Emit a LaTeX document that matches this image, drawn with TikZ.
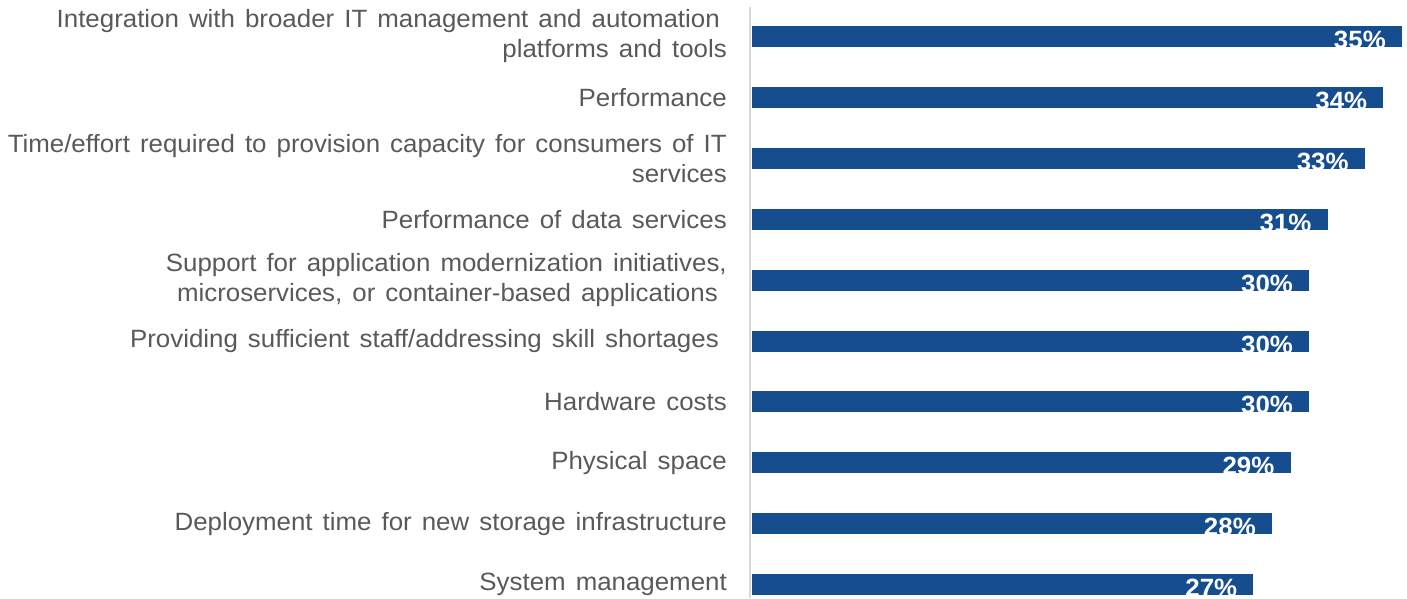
\documentclass[tikz,border=0pt]{standalone}
\usepackage{fontspec}
\setmainfont[FakeStretch=1.035, WordSpace=1.4]{Liberation Sans}
\usetikzlibrary{positioning}
\definecolor{barblue}{HTML}{154D8F}
\definecolor{labelgray}{HTML}{595959}
\definecolor{axisgray}{HTML}{D9D9D9}

\begin{document}
\begin{tikzpicture}[
  x=1pt, y=-1pt,
  item label/.style={
    anchor=east, align=right, inner sep=0pt, text=labelgray,
    font=\fontsize{25}{30}\selectfont,
  },
  bar/.style={
    fill=barblue, draw=none, anchor=west, inner sep=0pt, outer sep=0pt,
    minimum height=21pt,
  },
  value label/.style={
    anchor=base east, inner sep=0pt, text=white,
    font=\fontsize{25}{30}\selectfont\bfseries,
  }
  ]
  \useasboundingbox (0,0) rectangle (1407,598);

  % value axis
  \coordinate (axis top) at (750,7);
  \coordinate (axis bottom) at (750,598);
  \draw[axisgray, line width=1.5pt] (axis top) -- (axis bottom);

  % one row per answer: label, bar, share
  \foreach \i/\val/\txt in {
      1/35/{Integration with broader IT management and automation\kern7pt\\platforms and tools},
      2/34/{Performance},
      3/33/{Time/effort required to provision capacity for consumers of IT\\services},
      4/31/{Performance of data services},
      5/30/{Support for application modernization initiatives,\\microservices, or container-based applications\kern9pt},
      6/30/{Providing sufficient staff/addressing skill shortages\kern8pt},
      7/30/{Hardware costs},
      8/29/{Physical space},
      9/28/{Deployment time for new storage infrastructure},
      10/27/{System management}} {
    \pgfmathsetmacro\yc{36.5+(\i-1)*60.9}
    \node[item label] (label\i) at (727,\yc) {\txt};
    \node[bar, minimum width=\val*18.57pt] (bar\i) at (752,\yc) {};
    \node[value label] (value\i) at ([xshift=-16pt, yshift=-12pt]bar\i.east) {\val\%};
  }
\end{tikzpicture}
\end{document}
